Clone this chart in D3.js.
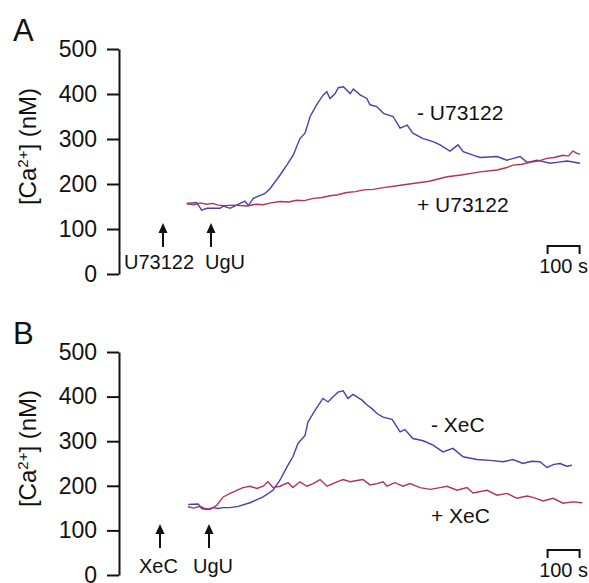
<!DOCTYPE html>
<html>
<head>
<meta charset="utf-8">
<script src="https://cdn.jsdelivr.net/npm/d3@7"></script>
<style>
  body { margin: 0; background: #fff; }
  text { font-family: "Liberation Sans", Arial, sans-serif; fill: #111; }
</style>
</head>
<body>
<div id="chart"></div>
<script>
// y ticks, nM
const yTicks = [0, 100, 200, 300, 400, 500];

// traces: [time (s), Ca2+ (nM)]
const blueA = [[2,157],[33,159],[49,142],[65,146],[84,146],[106,146],[117,151],[138,146],[169,157],[184,162],[195,152],
  [210,168],[247,179],[263,190],[294,220],[315,242],[335,264],[356,301],[372,313],[388,350],[408,376],[429,398],[440,405],
  [450,390],[466,401],[476,414],[492,416],[513,401],[523,411],[544,398],[565,390],[575,376],[596,372],[617,357],[647,350],
  [669,324],[691,331],[709,313],[741,301],[772,294],[794,287],[825,273],[850,287],[866,272],[897,264],[919,259],[972,261],
  [1003,253],[1044,261],[1066,248],[1097,253],[1138,246],[1159,248],[1191,251],[1231,246]];
const redA = [[2,156],[25,154],[44,158],[65,155],[84,157],[100,153],[116,152],[150,153],[190,151],[220,155],[241,154],[265,158],
  [294,161],[320,160],[346,164],[370,163],[398,168],[425,170],[450,174],[475,176],[502,181],[530,183],[554,187],[585,188],
  [617,192],[660,196],[709,201],[760,206],[816,216],[860,220],[919,227],[972,231],[1000,236],[1022,242],[1050,244],[1075,248],
  [1100,251],[1128,257],[1150,259],[1178,264],[1195,262],[1209,273],[1222,268],[1231,266]];
const blueB = [[7,158],[38,159],[49,149],[65,147],[84,151],[100,149],[116,151],[138,151],[163,154],[200,162],[241,175],[272,190],
  [294,213],[316,243],[334,265],[350,295],[372,313],[381,343],[403,369],[428,396],[444,388],[459,399],[475,410],[491,413],
  [506,396],[522,405],[550,392],[566,381],[581,373],[597,362],[616,354],[644,349],[669,321],[684,326],[709,306],[741,301],
  [772,291],[803,276],[834,284],[866,265],[909,259],[950,257],[991,254],[1022,259],[1053,250],[1080,255],[1106,254],
  [1128,241],[1150,248],[1169,250],[1190,244],[1206,246]];
const redB = [[6,153],[25,150],[44,154],[59,149],[75,147],[97,157],[116,175],[138,183],[159,190],[178,196],[200,199],[222,194],
  [241,199],[256,209],[272,196],[294,199],[319,207],[334,196],[356,209],[378,199],[397,205],[419,214],[441,199],[472,209],
  [491,214],[513,209],[534,212],[553,214],[575,202],[597,205],[616,209],[628,199],[653,207],[678,199],[700,205],[731,196],
  [763,192],[794,196],[816,199],[847,190],[878,196],[897,184],[941,190],[972,179],[1003,183],[1034,172],[1066,177],
  [1084,174],[1116,166],[1147,172],[1178,161],[1209,164],[1238,162]];

const panels = [
  { letter: "A", drug: "U73122", blue: blueA, red: redA, top: 49, bottom: 274,
    drugArrow: 163, ugArrow: 211, drugLabelX: 124, ugLabelX: 205, arrowBase: 247, labelBase: 269,
    minusY: 120, plusY: 212, traceLabelX: 417, barY: 246, barLabelY: 273 },
  { letter: "B", drug: "XeC", blue: blueB, red: redB, top: 352, bottom: 575,
    drugArrow: 160, ugArrow: 209, drugLabelX: 139, ugLabelX: 193, arrowBase: 548, labelBase: 573,
    minusY: 432, plusY: 523, traceLabelX: 431, barY: 550, barLabelY: 577 }
];

const W = 589, H = 583;
const blue = "#4343ad", red = "#b23455";

const svg = d3.select("#chart").append("svg").attr("width", W).attr("height", H);

// 100 s = 32 px
const x = d3.scaleLinear().domain([0, 100]).range([186, 218]);

panels.forEach(function(p) {
  const g = svg.append("g");
  const y = d3.scaleLinear().domain([0, 500]).range([p.bottom, p.top]);

  // panel letter
  g.append("text").attr("x", 13).attr("y", p.top - 8).style("font-size", "31px").text(p.letter);

  // y axis
  const ax = g.append("g").attr("transform", "translate(119,0)")
    .call(d3.axisLeft(y).tickValues(yTicks).tickSize(12).tickSizeOuter(0).tickPadding(10));
  ax.select(".domain").attr("stroke", "#111").attr("stroke-width", 2);
  ax.selectAll(".tick line").attr("stroke", "#111").attr("stroke-width", 2);
  ax.selectAll(".tick text").style("font-size", "23px").style("font-family", "'Liberation Sans', Arial, sans-serif").attr("fill", "#111");

  // y label
  const yl = g.append("text")
    .attr("transform", "translate(36," + ((p.top + p.bottom) / 2 - 15) + ") rotate(-90)")
    .attr("text-anchor", "middle").style("font-size", "24px");
  yl.append("tspan").text("[Ca");
  yl.append("tspan").attr("baseline-shift", "super").style("font-size", "15px").text("2+");
  yl.append("tspan").text("] (nM)");

  // traces
  const line = d3.line().x(d => x(d[0])).y(d => y(d[1]));
  g.append("path").datum(p.blue).attr("d", line).attr("fill", "none").attr("stroke", blue).attr("stroke-width", 1.4);
  g.append("path").datum(p.red).attr("d", line).attr("fill", "none").attr("stroke", red).attr("stroke-width", 1.4);

  // trace labels
  g.append("text").attr("x", p.traceLabelX).attr("y", p.minusY).style("font-size", "21px").text("- " + p.drug);
  g.append("text").attr("x", p.traceLabelX).attr("y", p.plusY).style("font-size", "21px").text("+ " + p.drug);

  // arrows
  [p.drugArrow, p.ugArrow].forEach(function(a) {
    g.append("line").attr("x1", a).attr("x2", a).attr("y1", p.arrowBase).attr("y2", p.arrowBase - 16)
      .attr("stroke", "#111").attr("stroke-width", 2);
    g.append("path")
      .attr("d", "M" + (a - 4.5) + "," + (p.arrowBase - 14) + "L" + a + "," + (p.arrowBase - 24) + "L" + (a + 4.5) + "," + (p.arrowBase - 14) + "Z")
      .attr("fill", "#111");
  });
  g.append("text").attr("x", p.drugLabelX).attr("y", p.labelBase).style("font-size", "20px").text(p.drug);
  g.append("text").attr("x", p.ugLabelX).attr("y", p.labelBase).style("font-size", "20px").text("UgU");

  // scale bar: 100 s
  const b0 = x(1130), b1 = x(1230);
  g.append("path")
    .attr("d", "M" + b0 + "," + (p.barY + 8) + "V" + p.barY + "H" + b1 + "V" + (p.barY + 8))
    .attr("fill", "none").attr("stroke", "#111").attr("stroke-width", 2);
  g.append("text").attr("x", (b0 + b1) / 2).attr("y", p.barLabelY).attr("text-anchor", "middle")
    .style("font-size", "20px").text("100 s");
});
</script>
</body>
</html>
